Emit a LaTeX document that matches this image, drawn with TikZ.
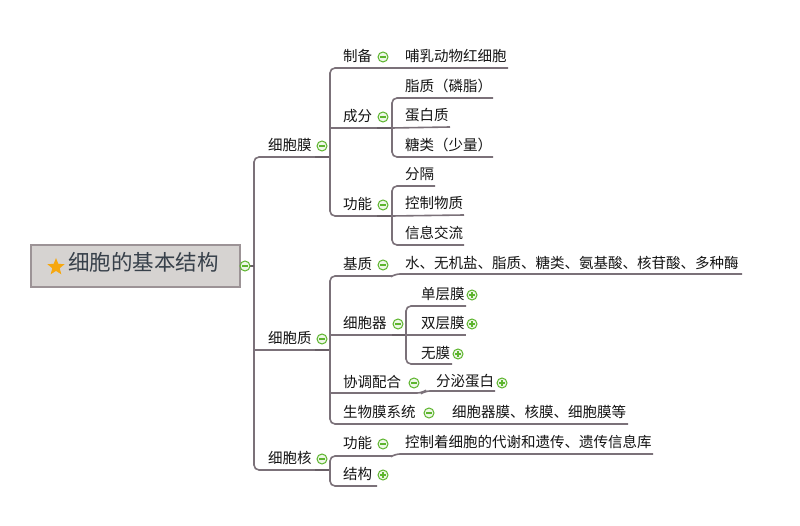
\documentclass[tikz,border=0pt]{standalone}
\usepackage{fontspec}
\newfontfamily\cjk{Noto Sans CJK SC}
\usetikzlibrary{shapes.geometric}
\definecolor{linec}{HTML}{7B7179}
\definecolor{linedk}{HTML}{6A6067}
\definecolor{togc}{HTML}{5DB52E}
\definecolor{togfill}{HTML}{EEF7E8}
\definecolor{rootfill}{HTML}{D6D3D1}
\definecolor{rootdraw}{HTML}{9C9396}
\definecolor{txt}{HTML}{141414}
\definecolor{roottxt}{HTML}{37404A}
\definecolor{starc}{HTML}{F6A70F}
\tikzset{
  conn/.style={draw=linec, line width=1.6pt, rounded corners=5pt},
  joint/.style={draw=linedk, line width=2.8pt},
  lbl/.style={anchor=west, inner sep=0pt, text=txt,
    font=\cjk\fontsize{14.5}{14.5}\selectfont, text height=0.9em, text depth=0.04em},
  rootlbl/.style={anchor=west, inner sep=0pt, text=roottxt,
    font=\cjk\fontsize{21.5}{21.5}\selectfont, text height=0.88em, text depth=0.05em},
  togbase/.style={circle, draw=togc, fill=togfill, line width=1pt, minimum size=10pt, inner sep=0pt},
  togminus/.style={togbase, path picture={\draw[togc, line width=1.2pt]
     ([xshift=2.3pt]path picture bounding box.west) -- ([xshift=-2.3pt]path picture bounding box.east);}},
  togplus/.style={togbase, path picture={\draw[togc, line width=1.2pt]
     ([xshift=2.3pt]path picture bounding box.west) -- ([xshift=-2.3pt]path picture bounding box.east)
     ([yshift=-2.3pt]path picture bounding box.north) -- ([yshift=2.3pt]path picture bounding box.south);}},
}
\begin{document}
\begin{tikzpicture}[x=1pt,y=-1pt]
\useasboundingbox (0,0) rectangle (800,526);
\fill[white] (0,0) rectangle (800,526);

% root
\node[draw=rootdraw, fill=rootfill, line width=1.5pt, minimum width=209pt, minimum height=42pt, inner sep=0pt] (root) at (135.5,266) {};
\node[star, star points=5, star point ratio=2.3, fill=starc, minimum size=18pt, inner sep=0pt] (star) at (56,267) {};
\node[rootlbl] (roott) at (68,266) {细胞的基本结构};

% coordinates
\coordinate (trunk) at (254,266);
\coordinate (mA) at (330,157); % 细胞膜 junction
\coordinate (mB) at (330,350); % 细胞质 junction
\coordinate (mC) at (330,470); % 细胞核 junction

% trunk and level-1 lines
\draw[conn] (mA) -- (254,157) -- (254,470) -- (mC);
\draw[conn] (254,350) -- (mB);
\draw[joint] (245,266) -- (trunk);
\draw[joint] (315,157) -- (mA);
\draw[joint] (315,350) -- (mB);
\draw[joint] (315,470) -- (mC);

% 细胞膜 branch
\coordinate (cA) at (392,128);
\coordinate (cB) at (392,216);
\draw[conn] (508,68) -- (330,68) -- (330,216) -- (cB);
\draw[conn] (330,128) -- (cA);
\draw[joint] (377,128) -- (cA);
\draw[joint] (377,216) -- (cB);
\draw[conn] (493,98) -- (392,98) -- (392,157) -- (493,157);
\draw[conn] (cA) -- (450,127);
\draw[conn] (435,186) -- (392,186) -- (392,245) -- (464,245);
\draw[conn] (cB) -- (464,215);

% 细胞质 branch
\coordinate (cC) at (406,335);
\draw[conn] (392,276) -- (330,276) -- (330,424) -- (628,424);
\draw[conn] (392,276) -- (395,274) -- (742,274);
\draw[conn] (330,335) -- (cC);
\draw[joint] (392,335) -- (cC);
\draw[conn] (466,306) -- (406,306) -- (406,364) -- (452,364);
\draw[conn] (cC) -- (466,335);
\draw[conn] (330,393) -- (422,393) -- (425,391) -- (495,391);

% 细胞核 branch
\draw[conn] (392,456) -- (330,456) -- (330,486) -- (377,486);
\draw[conn] (392,456) -- (395,454) -- (653,454);

% labels
\node[lbl] (xbm) at (268,146) {细胞膜};
\node[lbl] (zb) at (343,57) {制备};
\node[lbl] (brd) at (405,57) {哺乳动物红细胞};
\node[lbl] (cf) at (343,117) {成分};
\node[lbl] (zz) at (405,87) {脂质（磷脂）};
\node[lbl] (dbz) at (405,116) {蛋白质};
\node[lbl] (tl) at (405,146) {糖类（少量）};
\node[lbl] (gn1) at (343,205) {功能};
\node[lbl] (fg) at (405,175) {分隔};
\node[lbl] (kz) at (405,204) {控制物质};
\node[lbl] (xx) at (405,234) {信息交流};

\node[lbl] (xbz) at (268,339) {细胞质};
\node[lbl] (jz) at (343,265) {基质};
\node[lbl] (jzc) at (405,264) {水、无机盐、脂质、糖类、氨基酸、核苷酸、多种酶};
\node[lbl] (xbq) at (343,324) {细胞器};
\node[lbl] (dcm) at (421,295) {单层膜};
\node[lbl] (scm) at (421,324) {双层膜};
\node[lbl] (wm) at (421,354) {无膜};
\node[lbl] (xt) at (343,383) {协调配合};
\node[lbl] (fm) at (436,382) {分泌蛋白};
\node[lbl] (swm) at (343,413) {生物膜系统};
\node[lbl] (swmc) at (452,413) {细胞器膜、核膜、细胞膜等};

\node[lbl] (xbh) at (268,459) {细胞核};
\node[lbl] (gn2) at (343,444) {功能};
\node[lbl] (gnc) at (405,443) {控制着细胞的代谢和遗传、遗传信息库};
\node[lbl] (jg) at (343,475) {结构};

% toggles
\node[togminus] (t0) at (245,266) {};
\node[togminus] (t1) at (322,146) {};
\node[togminus] (t2) at (383,57) {};
\node[togminus] (t3) at (383,117) {};
\node[togminus] (t4) at (383,205) {};
\node[togminus] (t5) at (322,339) {};
\node[togminus] (t6) at (383,265) {};
\node[togminus] (t7) at (398,324) {};
\node[togplus] (t8) at (472,295) {};
\node[togplus] (t9) at (472,324) {};
\node[togplus] (t10) at (458,354) {};
\node[togminus] (t11) at (414,383) {};
\node[togplus] (t12) at (502,383) {};
\node[togminus] (t13) at (429,413) {};
\node[togminus] (t14) at (322,459) {};
\node[togminus] (t15) at (383,444) {};
\node[togplus] (t16) at (383,475) {};
\end{tikzpicture}
\end{document}
